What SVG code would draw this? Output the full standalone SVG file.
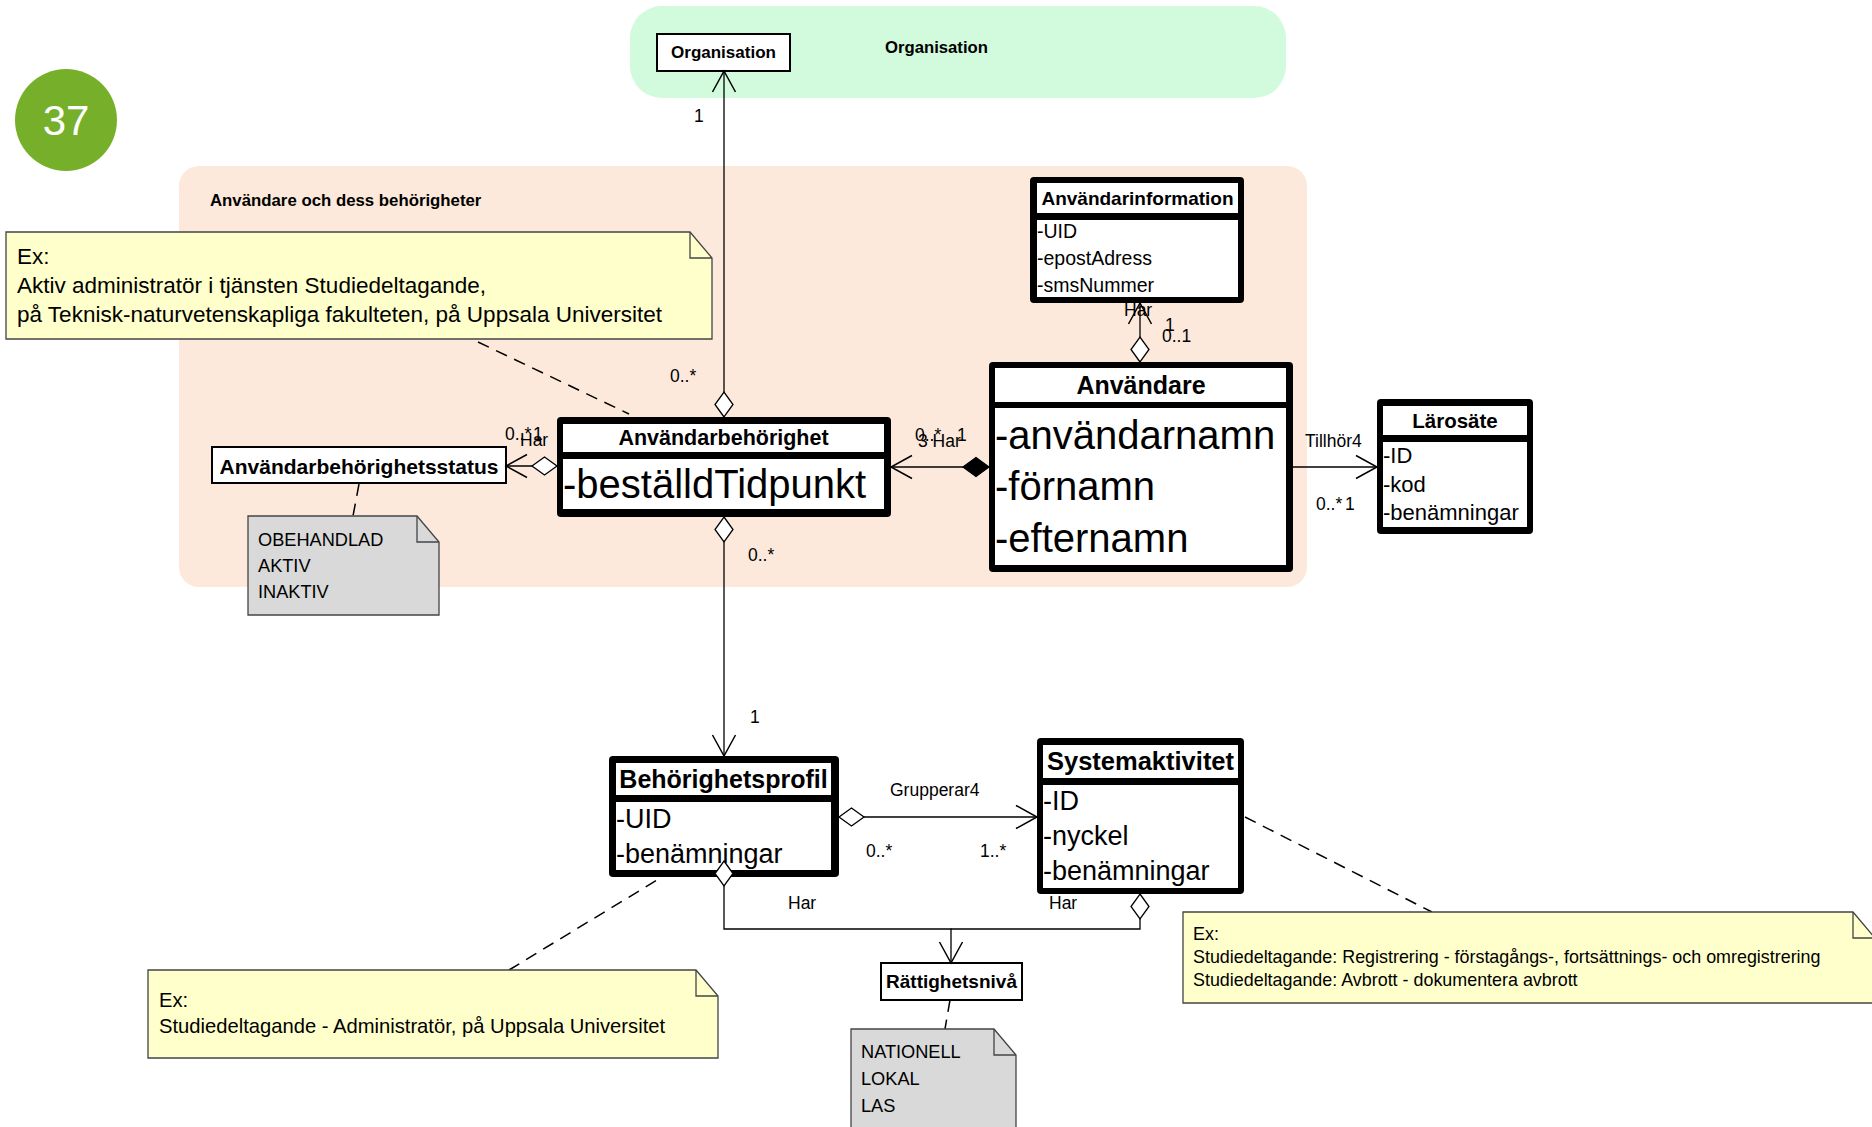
<svg xmlns="http://www.w3.org/2000/svg" width="1872" height="1127" viewBox="0 0 1872 1127">
<defs>
<style>
text{font-family:'Liberation Sans',Arial,sans-serif;fill:#000}
.b{font-weight:bold}
.lbl{font-size:17.5px}
.frame{fill:#000}
.cell{fill:#fff}
.box{fill:#fff;stroke:#000;stroke-width:2}
.conn{fill:none;stroke:#000;stroke-width:1.3}
.dash{fill:none;stroke:#000;stroke-width:1.5;stroke-dasharray:12 8}
.note{fill:#FFFFCC;stroke:#444;stroke-width:1.3}
.gnote{fill:#D9D9D9;stroke:#444;stroke-width:1.3}
.fold{fill:none;stroke:#444;stroke-width:1.3}
</style>
<marker id="arrow" markerUnits="userSpaceOnUse" viewBox="-24 -14 26 28" refX="0" refY="0" markerWidth="26" markerHeight="28" orient="auto">
<path d="M-21,-11.5 L0,0 L-21,11.5" fill="none" stroke="#000" stroke-width="1.5"/>
</marker>
<marker id="dia" markerUnits="userSpaceOnUse" viewBox="-2 -11 30 22" refX="0" refY="0" markerWidth="30" markerHeight="22" orient="auto">
<path d="M0,0 L12.5,-9 L25,0 L12.5,9 Z" fill="#fff" stroke="#000" stroke-width="1.3"/>
</marker>
<marker id="fdia" markerUnits="userSpaceOnUse" viewBox="-2 -11 30 22" refX="0" refY="0" markerWidth="30" markerHeight="22" orient="auto">
<path d="M0,0 L13,-9.5 L26,0 L13,9.5 Z" fill="#000" stroke="#000" stroke-width="1.3"/>
</marker>
</defs>

<g id="badge">
<circle cx="66" cy="120" r="51" fill="#76B02A"/>
<text x="66" y="135" text-anchor="middle" font-size="42" style="fill:#fff">37</text>
</g>

<g id="pkg-organisation">
<rect x="630" y="6" width="656" height="92" rx="32" fill="#D2FADC"/>
<text class="b" x="885" y="53" font-size="16.7">Organisation</text>
</g>

<g id="pkg-anvandare">
<rect x="179" y="166" width="1128" height="421" rx="20" fill="#FCE9DC"/>
<text class="b" x="210" y="206" font-size="16.8">Användare och dess behörigheter</text>
</g>

<g id="node-organisation">
<rect class="box" x="657" y="34" width="133" height="37"/>
<text class="b" x="723.5" y="58" font-size="17" text-anchor="middle">Organisation</text>
</g>

<g id="node-anvandarinformation">
<rect class="frame" x="1030" y="177" width="214" height="126" rx="4"/>
<rect class="cell" x="1037" y="183" width="201" height="30"/>
<rect class="cell" x="1037" y="220" width="201" height="77"/>
<text class="b" x="1137.5" y="205" font-size="19" text-anchor="middle">Användarinformation</text>
<text x="1037" y="238" font-size="19.5">-UID</text>
<text x="1037" y="265" font-size="19.5">-epostAdress</text>
<text x="1037" y="292" font-size="19.5">-smsNummer</text>
</g>

<g id="node-anvandare">
<rect class="frame" x="989" y="362" width="304" height="210" rx="4"/>
<rect class="cell" x="995" y="368" width="291" height="34"/>
<rect class="cell" x="995" y="408" width="291" height="157"/>
<text class="b" x="1141" y="394" font-size="25" text-anchor="middle">Användare</text>
<text x="995" y="449" font-size="40">-användarnamn</text>
<text x="995" y="500" font-size="40">-förnamn</text>
<text x="995" y="552" font-size="40">-efternamn</text>
</g>

<g id="node-anvandarbehorighet">
<rect class="frame" x="557" y="417" width="334" height="100" rx="4"/>
<rect class="cell" x="563" y="424" width="321" height="28"/>
<rect class="cell" x="563" y="459" width="321" height="50"/>
<text class="b" x="723.5" y="445" font-size="21.5" text-anchor="middle">Användarbehörighet</text>
<text x="563" y="498" font-size="40">-beställdTidpunkt</text>
</g>

<g id="node-anvandarbehorighetsstatus">
<rect class="box" x="212" y="447" width="294" height="36"/>
<text class="b" x="359" y="474" font-size="21" text-anchor="middle">Användarbehörighetsstatus</text>
</g>

<g id="node-larosate">
<rect class="frame" x="1377" y="399" width="156" height="135" rx="4"/>
<rect class="cell" x="1383" y="406" width="144" height="29"/>
<rect class="cell" x="1383" y="442" width="144" height="85"/>
<text class="b" x="1455" y="428" font-size="20.5" text-anchor="middle">Lärosäte</text>
<text x="1383" y="463" font-size="22">-ID</text>
<text x="1383" y="492" font-size="22">-kod</text>
<text x="1383" y="520" font-size="22">-benämningar</text>
</g>

<g id="node-behorighetsprofil">
<rect class="frame" x="609" y="756" width="230" height="121" rx="4"/>
<rect class="cell" x="616" y="763" width="215" height="32"/>
<rect class="cell" x="616" y="802" width="215" height="68"/>
<text class="b" x="723.5" y="788" font-size="25" text-anchor="middle">Behörighetsprofil</text>
<text x="616" y="828" font-size="27">-UID</text>
<text x="616" y="863" font-size="27">-benämningar</text>
</g>

<g id="node-systemaktivitet">
<rect class="frame" x="1037" y="738" width="207" height="156" rx="4"/>
<rect class="cell" x="1043" y="745" width="195" height="33"/>
<rect class="cell" x="1043" y="785" width="195" height="103"/>
<text class="b" x="1140.5" y="770" font-size="25.5" text-anchor="middle">Systemaktivitet</text>
<text x="1043" y="810" font-size="27">-ID</text>
<text x="1043" y="845" font-size="27">-nyckel</text>
<text x="1043" y="880" font-size="27">-benämningar</text>
</g>

<g id="node-rattighetsniva">
<rect class="box" x="881" y="963" width="141" height="37"/>
<text class="b" x="951.5" y="988" font-size="19" text-anchor="middle">Rättighetsnivå</text>
</g>

<g id="connectors">
<path class="conn" d="M724,417 V71" marker-start="url(#dia)" marker-end="url(#arrow)"/>
<path class="conn" d="M724,517 V756" marker-start="url(#dia)" marker-end="url(#arrow)"/>
<path class="conn" d="M557,466 H506" marker-start="url(#dia)" marker-end="url(#arrow)"/>
<path class="conn" d="M989,467 H891" marker-start="url(#fdia)" marker-end="url(#arrow)"/>
<path class="conn" d="M1140,362 V303" marker-start="url(#dia)" marker-end="url(#arrow)"/>
<path class="conn" d="M1293,467 H1377" marker-end="url(#arrow)"/>
<path class="conn" d="M839,817 H1037" marker-start="url(#dia)" marker-end="url(#arrow)"/>
<path class="conn" d="M724,861 V929 H951 V963" marker-start="url(#dia)" marker-end="url(#arrow)"/>
<path class="conn" d="M1140,894 V929 H951" marker-start="url(#dia)"/>

<path class="dash" d="M478,342 L629,414"/>
<path class="dash" d="M359,484 L353,516"/>
<path class="dash" d="M509,970 L662,877"/>
<path class="dash" d="M950,1000 L945,1029"/>
<path class="dash" d="M1245,817 L1432,912"/>

<text class="lbl" x="694" y="122">1</text>
<text class="lbl" x="670" y="382">0..*</text>
<text class="lbl" x="748" y="561">0..*</text>
<text class="lbl" x="750" y="723">1</text>
<text class="lbl" x="505" y="440">0..*</text>
<text class="lbl" x="533" y="440">1</text>
<text class="lbl" x="520" y="446">Har</text>
<text class="lbl" x="915" y="441">0..*</text>
<text class="lbl" x="957" y="441">1</text>
<text class="lbl" x="918" y="447">3 Har</text>
<text class="lbl" x="1124" y="316">Har</text>
<text class="lbl" x="1165" y="331">1</text>
<text class="lbl" x="1162" y="342">0..1</text>
<text class="lbl" x="1305" y="447">Tillhör4</text>
<text class="lbl" x="1316" y="510">0..*</text>
<text class="lbl" x="1345" y="510">1</text>
<text class="lbl" x="890" y="796">Grupperar4</text>
<text class="lbl" x="866" y="857">0..*</text>
<text class="lbl" x="980" y="857">1..*</text>
<text class="lbl" x="788" y="909">Har</text>
<text class="lbl" x="1049" y="909">Har</text>
</g>

<g id="note-ex1">
<path class="note" d="M6,232 H690 L712,258 V339 H6 Z"/>
<path class="fold" d="M690,232 V258 H712"/>
<text x="17" y="264" font-size="22.5">Ex:</text>
<text x="17" y="293" font-size="22.5">Aktiv administratör i tjänsten Studiedeltagande,</text>
<text x="17" y="322" font-size="22.5">på Teknisk-naturvetenskapliga fakulteten, på Uppsala Universitet</text>
</g>

<g id="note-status">
<path class="gnote" d="M248,516 H417 L439,542 V615 H248 Z"/>
<path class="fold" d="M417,516 V542 H439"/>
<text x="258" y="546" font-size="18.2">OBEHANDLAD</text>
<text x="258" y="572" font-size="18.2">AKTIV</text>
<text x="258" y="598" font-size="18.2">INAKTIV</text>
</g>

<g id="note-ex2">
<path class="note" d="M148,970 H696 L718,996 V1058 H148 Z"/>
<path class="fold" d="M696,970 V996 H718"/>
<text x="159" y="1007" font-size="20.2">Ex:</text>
<text x="159" y="1033" font-size="20.2">Studiedeltagande - Administratör, på Uppsala Universitet</text>
</g>

<g id="note-niva">
<path class="gnote" d="M851,1029 H994 L1016,1055 V1140 H851 Z"/>
<path class="fold" d="M994,1029 V1055 H1016"/>
<text x="861" y="1058" font-size="18.2">NATIONELL</text>
<text x="861" y="1085" font-size="18.2">LOKAL</text>
<text x="861" y="1112" font-size="18.2">LAS</text>
</g>

<g id="note-ex3">
<path class="note" d="M1183,912 H1853 L1875,938 V1003 H1183 Z"/>
<path class="fold" d="M1853,912 V938 H1875"/>
<text x="1193" y="940" font-size="17.9">Ex:</text>
<text x="1193" y="963" font-size="17.9">Studiedeltagande: Registrering - förstagångs-, fortsättnings- och omregistrering</text>
<text x="1193" y="986" font-size="17.9">Studiedeltagande: Avbrott - dokumentera avbrott</text>
</g>
</svg>
